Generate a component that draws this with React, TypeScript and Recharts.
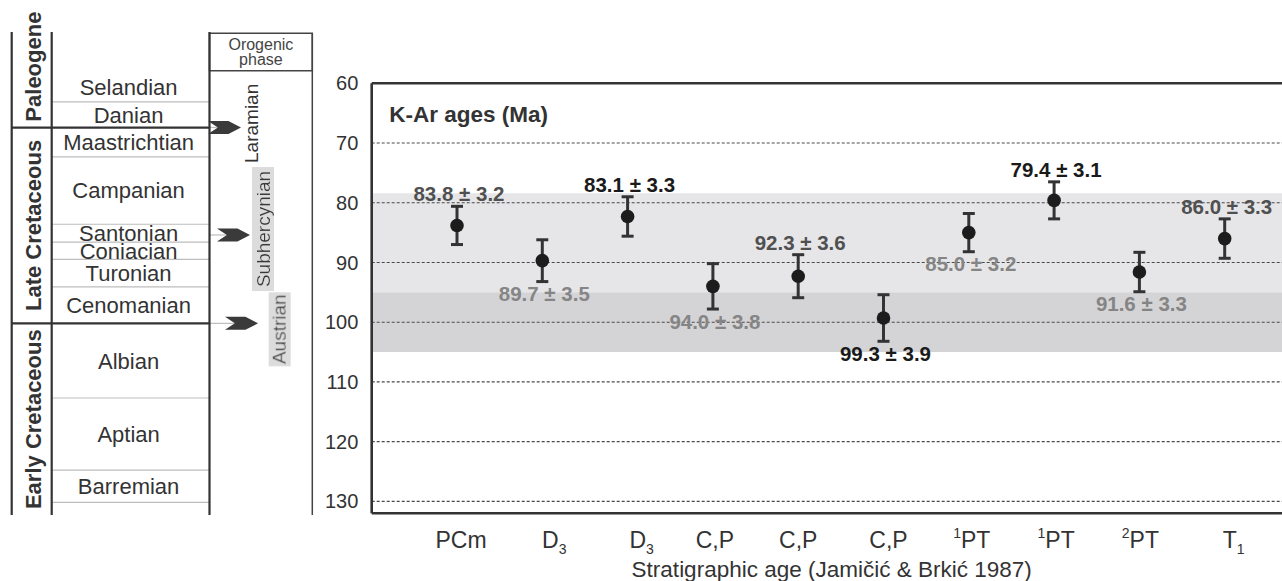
import React from "react";
import {
  ComposedChart,
  Scatter,
  ErrorBar,
  XAxis,
  YAxis,
  ReferenceArea,
  ReferenceLine,
  Label,
} from "recharts";

const FONT = "'Liberation Sans', Arial, Helvetica, sans-serif";

// K-Ar ages (right panel), Ma
const sampleAges = ["PCm", "D_3", "D_3", "C,P", "C,P", "C,P", "^1PT", "^1PT", "^2PT", "T_1"];
const kArAges = [83.8, 89.7, 82.3, 94.0, 92.3, 99.3, 85.0, 79.6, 91.6, 86.0];
const kArErrors = [3.2, 3.5, 3.3, 3.8, 3.6, 3.9, 3.2, 3.1, 3.3, 3.3];
const kArLabels = [
  "83.8 ± 3.2", "89.7 ± 3.5", "83.1 ± 3.3", "94.0 ± 3.8", "92.3 ± 3.6",
  "99.3 ± 3.9", "85.0 ± 3.2", "79.4 ± 3.1", "91.6 ± 3.3", "86.0 ± 3.3",
];
const labelSide = ["above", "below", "above", "below", "above", "below", "below", "above", "below", "above"];
const labelTone = ["dark", "grey", "black", "grey", "dark", "black", "grey", "black", "grey", "dark"];
const ageTicks = [60, 70, 80, 90, 100, 110, 120, 130];
const lightBand = [78.4, 95];
const darkBand = [95, 105];

// stratigraphic column (left panel), Ma
const stageNames = [
  "Selandian", "Danian", "Maastrichtian", "Campanian", "Santonian", "Coniacian",
  "Turonian", "Cenomanian", "Albian", "Aptian", "Barremian",
];
const stageTops = [58.3, 63.1, 67.4, 72.3, 83.6, 86.6, 89.5, 94.1, 100.2, 112.7, 124.8];
const stageBases = [63.1, 67.4, 72.3, 83.6, 86.6, 89.5, 94.1, 100.2, 112.7, 124.8, 130.2];
const periodNames = ["Paleogene", "Late Cretaceous", "Early Cretaceous"];
const periodTops = [47.0, 67.4, 100.2];
const periodBases = [67.4, 100.2, 132.3];
const phaseNames = ["Laramian", "Subhercynian", "Austrian"];
const phaseAges = [67.4, 85.4, 100.2];
const phaseLabelAges = [66.7, 84.4, 101.2];

// layout
const W = 1282;
const H = 581;
const STRAT_TOP = 51.4;
const STRAT_BASE = 132.3;
const X_PERIOD = 11.7;
const X_STAGE = 51.7;
const X_PHASE = 209.5;
const X_PHASE_END = 312.3;
const HEADER = [51.6, 57.9];
const arrowX = [208, 217, 225];
const phaseLabelX = [251.5, 263, 279];
const phaseShaded = [false, true, true];
const tickShift = [4, 12, 14, 2, 0, 5, 3, 2, 1, 9];
const toneColor: Record<string, string> = { black: "#1a1a1a", dark: "#505050", grey: "#858585" };

function Chevron(props: any) {
  const { cx, cy } = props;
  if (cx == null || cy == null) return null;
  const w = 33;
  const h = 13;
  const pts = [
    [cx, cy - h / 2],
    [cx + 0.62 * w, cy - h / 2],
    [cx + w, cy],
    [cx + 0.62 * w, cy + h / 2],
    [cx, cy + h / 2],
    [cx + 0.3 * w, cy],
  ]
    .map((p) => p.join(","))
    .join(" ");
  return <polygon points={pts} fill="#3a3a3a" />;
}

function StratColumn() {
  const stagePts = stageNames.map((name, i) => ({
    x: (X_STAGE + X_PHASE) / 2 - 2,
    y: (stageTops[i] + stageBases[i]) / 2,
    name,
  }));
  const periodPts = periodNames.map((name, i) => ({
    x: 33,
    y: (periodTops[i] + periodBases[i]) / 2,
    name,
  }));
  const arrowPts = phaseNames.map((name, i) => ({ x: arrowX[i], y: phaseAges[i], name }));
  const phaseLabelPts = phaseNames.map((name, i) => ({
    x: phaseLabelX[i],
    y: phaseLabelAges[i],
    name,
    shaded: phaseShaded[i],
  }));
  const bold = periodBases.slice(0, -1);

  return (
    <ComposedChart width={330} height={H} margin={{ top: 32, right: 0, bottom: H - 515, left: 0 }}>
      <defs>
        <filter id="phaseBg" x="-0.03" y="0" width="1.06" height="1">
          <feFlood floodColor="#dcdcdc" />
          <feComposite in="SourceGraphic" operator="over" />
        </filter>
      </defs>
      <XAxis type="number" dataKey="x" domain={[0, 330]} hide />
      <YAxis type="number" dataKey="y" domain={[STRAT_TOP, STRAT_BASE]} reversed hide />

      {/* stage boundaries */}
      {stageBases.map((b) =>
        bold.includes(b) ? null : (
          <ReferenceLine
            key={"s" + b}
            segment={[{ x: X_STAGE, y: b }, { x: X_PHASE, y: b }]}
            stroke="#bdbdbd"
            strokeWidth={1.2}
            ifOverflow="visible"
          />
        )
      )}
      {/* phase pointers */}
      {phaseAges.map((a, i) => (
        <ReferenceLine
          key={"g" + i}
          segment={[{ x: X_PHASE, y: a }, { x: arrowX[i] + 10, y: a }]}
          stroke="#bdbdbd"
          strokeWidth={1.2}
          ifOverflow="visible"
        />
      ))}
      {/* period boundaries */}
      {bold.map((b) => (
        <ReferenceLine
          key={"p" + b}
          segment={[{ x: X_PERIOD, y: b }, { x: X_PHASE, y: b }]}
          stroke="#333"
          strokeWidth={2.2}
          ifOverflow="visible"
        />
      ))}
      {/* column frames */}
      {[X_PERIOD, X_STAGE, X_PHASE].map((x) => (
        <ReferenceLine
          key={"v" + x}
          segment={[{ x, y: STRAT_TOP }, { x, y: STRAT_BASE }]}
          stroke="#333"
          strokeWidth={2.2}
          ifOverflow="visible"
        />
      ))}
      <ReferenceLine
        segment={[{ x: X_PHASE_END, y: HEADER[0] }, { x: X_PHASE_END, y: STRAT_BASE }]}
        stroke="#444"
        strokeWidth={1.5}
        ifOverflow="visible"
      />
      <ReferenceArea
        x1={X_PHASE}
        x2={X_PHASE_END}
        y1={HEADER[0]}
        y2={HEADER[1]}
        fill="none"
        stroke="#444"
        strokeWidth={1.5}
        ifOverflow="visible"
      >
        <Label
          content={(p: any) => {
            const vb = p.viewBox || {};
            const cx = vb.x + vb.width / 2;
            const cy = vb.y + vb.height / 2;
            return (
              <text x={cx} textAnchor="middle" fontFamily={FONT} fontSize={16} fill="#444">
                <tspan x={cx} y={cy - 2}>Orogenic</tspan>
                <tspan x={cx} y={cy + 13}>phase</tspan>
              </text>
            );
          }}
        />
      </ReferenceArea>

      <Scatter
        data={stagePts}
        isAnimationActive={false}
        shape={(p: any) => (
          <text x={p.cx} y={p.cy} dy="0.36em" textAnchor="middle" fontFamily={FONT} fontSize={22} fill="#333">
            {p.payload.name}
          </text>
        )}
      />
      <Scatter
        data={periodPts}
        isAnimationActive={false}
        shape={(p: any) => (
          <text
            x={p.cx}
            y={p.cy}
            dy="0.36em"
            textAnchor="middle"
            transform={`rotate(-90, ${p.cx}, ${p.cy})`}
            fontFamily={FONT}
            fontSize={22}
            fontWeight="bold"
            fill="#333"
          >
            {p.payload.name}
          </text>
        )}
      />
      <Scatter data={arrowPts} isAnimationActive={false} shape={Chevron} />
      <Scatter
        data={phaseLabelPts}
        isAnimationActive={false}
        shape={(p: any) => (
          <text
            x={p.cx}
            y={p.cy}
            dy="0.36em"
            textAnchor="middle"
            transform={`rotate(-90, ${p.cx}, ${p.cy})`}
            fontFamily={FONT}
            fontSize={19}
            fill="#333"
            filter={p.payload.shaded ? "url(#phaseBg)" : undefined}
          >
            {p.payload.name}
          </text>
        )}
      />
    </ComposedChart>
  );
}

function SampleTick(props: any) {
  const { x, y, payload } = props;
  const i = payload.value - 1;
  const name = sampleAges[i];
  if (!name) return null;
  let sup = "";
  let main = name;
  let sub = "";
  if (main.startsWith("^")) {
    sup = main[1];
    main = main.slice(2);
  }
  const k = main.indexOf("_");
  if (k >= 0) {
    sub = main.slice(k + 1);
    main = main.slice(0, k);
  }
  return (
    <text x={x + tickShift[i]} y={y + 35} textAnchor="middle" fontFamily={FONT} fontSize={23} fill="#333">
      {sup && <tspan fontSize={14} dy={-10}>{sup}</tspan>}
      <tspan dy={sup ? 10 : 0}>{main}</tspan>
      {sub && <tspan fontSize={14} dy={6}>{sub}</tspan>}
    </text>
  );
}

function KArChart() {
  const points = kArAges.map((y, i) => ({ x: i + 1, y, err: kArErrors[i] }));
  const labelPts = kArAges.map((y, i) => ({
    x: i + 1,
    y: labelSide[i] === "above" ? y - kArErrors[i] : y + kArErrors[i],
    text: kArLabels[i],
    side: labelSide[i],
    tone: labelTone[i],
  }));

  return (
    <ComposedChart width={1330} height={H} margin={{ top: 83.3, right: 20, bottom: 0, left: 0 }}>
      <XAxis
        type="number"
        dataKey="x"
        domain={[0, 11]}
        ticks={[1, 2, 3, 4, 5, 6, 7, 8, 9, 10]}
        interval={0}
        height={H - 513.3}
        tickLine={false}
        tickSize={0}
        tickMargin={0}
        axisLine={{ stroke: "#333", strokeWidth: 2.6 }}
        tick={(p: any) => <SampleTick {...p} />}
      >
        <Label
          content={(p: any) => {
            const vb = p.viewBox || {};
            return (
              <text x={vb.x + 460} y={vb.y + 63.5} textAnchor="middle" fontFamily={FONT} fontSize={22.5} fill="#333">
                Stratigraphic age (Jamičić &amp; Brkić 1987)
              </text>
            );
          }}
        />
      </XAxis>
      <YAxis
        type="number"
        dataKey="y"
        domain={[60, 132]}
        reversed
        ticks={ageTicks}
        interval={0}
        width={371.7}
        tickLine={false}
        tickSize={0}
        tickMargin={13.4}
        axisLine={{ stroke: "#333", strokeWidth: 2.6 }}
        tick={{ fill: "#333", fontSize: 20, fontFamily: FONT }}
      >
        <Label
          content={(p: any) => {
            const vb = p.viewBox || {};
            return (
              <text x={vb.x + vb.width + 17.6} y={vb.y + 38.4} fontFamily={FONT} fontSize={22.5} fontWeight="bold" fill="#333">
                K-Ar ages (Ma)
              </text>
            );
          }}
        />
      </YAxis>

      <ReferenceArea y1={lightBand[0]} y2={lightBand[1]} fill="#e6e6e8" fillOpacity={1} stroke="none" />
      <ReferenceArea y1={darkBand[0]} y2={darkBand[1]} fill="#d4d4d6" fillOpacity={1} stroke="none" />
      {ageTicks.slice(1).map((v) => (
        <ReferenceLine key={v} y={v} stroke="#4a4a4a" strokeWidth={1.1} strokeDasharray="3 2" />
      ))}
      <ReferenceLine y={60} stroke="#333" strokeWidth={2.6} />
      <ReferenceLine x={11} stroke="#333" strokeWidth={2.6} />

      <Scatter
        data={points}
        isAnimationActive={false}
        shape={(p: any) => <circle cx={p.cx} cy={p.cy} r={6.8} fill="#1c1c1c" />}
      >
        <ErrorBar dataKey="err" direction="y" width={6} stroke="#333" strokeWidth={3} />
      </Scatter>
      <Scatter
        data={labelPts}
        isAnimationActive={false}
        shape={(p: any) => (
          <text
            x={p.cx + 2}
            y={p.payload.side === "above" ? p.cy - 5 : p.cy + 19.5}
            textAnchor="middle"
            fontFamily={FONT}
            fontSize={20.5}
            fontWeight="bold"
            fill={toneColor[p.payload.tone]}
          >
            {p.payload.text}
          </text>
        )}
      />
    </ComposedChart>
  );
}

export default function App() {
  return (
    <div style={{ position: "relative", width: W, height: H, overflow: "hidden", background: "#fff" }}>
      <style>{"html,body{margin:0;padding:0;overflow:hidden;}"}</style>
      <div style={{ position: "absolute", left: 0, top: 0 }}>
        <KArChart />
      </div>
      <div style={{ position: "absolute", left: 0, top: 0 }}>
        <StratColumn />
      </div>
    </div>
  );
}
